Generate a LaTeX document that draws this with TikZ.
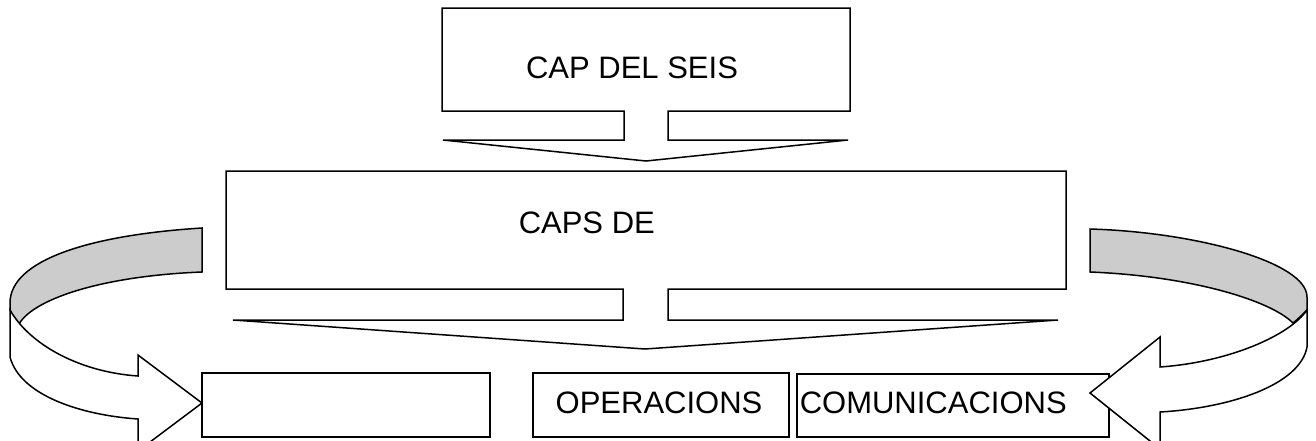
\documentclass[tikz,border=0pt]{standalone}
\usepackage{fontspec}
\setmainfont{Liberation Sans}
\begin{document}
\begin{tikzpicture}[x=1pt,y=-1pt,
  line width=1.5pt, line join=miter,
  shp/.style={draw=black, fill=white},
  back/.style={draw=black, fill=black!20},
  lbl/.style={inner sep=0pt, font=\fontsize{31}{37}\selectfont},
  boxn/.style={draw=black, fill=white, inner sep=0pt, line width=1.5pt}]
\useasboundingbox (0,0) rectangle (1316,440);
\begin{scope}
\clip (0,0) rectangle (1316,440);
% top callout
\draw[shp] (442,8) -- (850,8) -- (850,111) -- (668,111) -- (668,140) -- (848,140)
  -- (646,161) -- (443,140) -- (624,140) -- (624,111) -- (442,111) -- cycle;
\node[lbl, anchor=base] (cap) at (632,78) {CAP DEL SEIS};
% middle callout
\draw[shp] (226,171) -- (1066,171) -- (1066,289) -- (668,289) -- (668,320) -- (1058,320)
  -- (645,349) -- (233,320) -- (623,320) -- (623,289) -- (226,289) -- cycle;
\node[lbl, anchor=base west] (caps) at (518,233) {CAPS DE};
% bottom boxes
\node[boxn, minimum width=288pt, minimum height=64pt] (b1) at (346,405) {};
\node[boxn, minimum width=256pt, minimum height=64pt] (b2) at (661,405) {};
\node[lbl, anchor=base] (t2) at (659,413) {OPERACIONS};
\node[boxn, minimum width=312pt, minimum height=63pt] (b3) at (953,405.5) {};
\node[lbl, anchor=base west] (t3) at (799,413) {COMUNICACIONS};
% left curved arrow: back band
\draw[back] (202,228) .. controls (90,235) and (10,260) .. (10,303) -- (10,310)
  .. controls (12,315) and (15,321) .. (18,326)
  .. controls (30,300) and (100,276) .. (202,272) -- cycle;
% left curved arrow: front band
\draw[shp] (10,310) -- (10,357) .. controls (20,395) and (80,415) .. (138,419)
  -- (138,451) -- (202,403) -- (138,355) -- (138,376)
  .. controls (80,372) and (30,345) .. (10,310) -- cycle;
% right curved arrow: back band
\draw[back] (1090,229) .. controls (1195,232) and (1307,262) .. (1307,297) -- (1307,310)
  .. controls (1302,315) and (1298,319) .. (1293,323)
  .. controls (1270,300) and (1190,276) .. (1090,272) -- cycle;
% right curved arrow: front band
\draw[shp] (1307,310) -- (1307,347) .. controls (1300,385) and (1230,408) .. (1160,412)
  -- (1160,449) -- (1090,393) -- (1160,337) -- (1160,367)
  .. controls (1230,362) and (1290,335) .. (1307,310) -- cycle;
\end{scope}
\end{tikzpicture}
\end{document}
